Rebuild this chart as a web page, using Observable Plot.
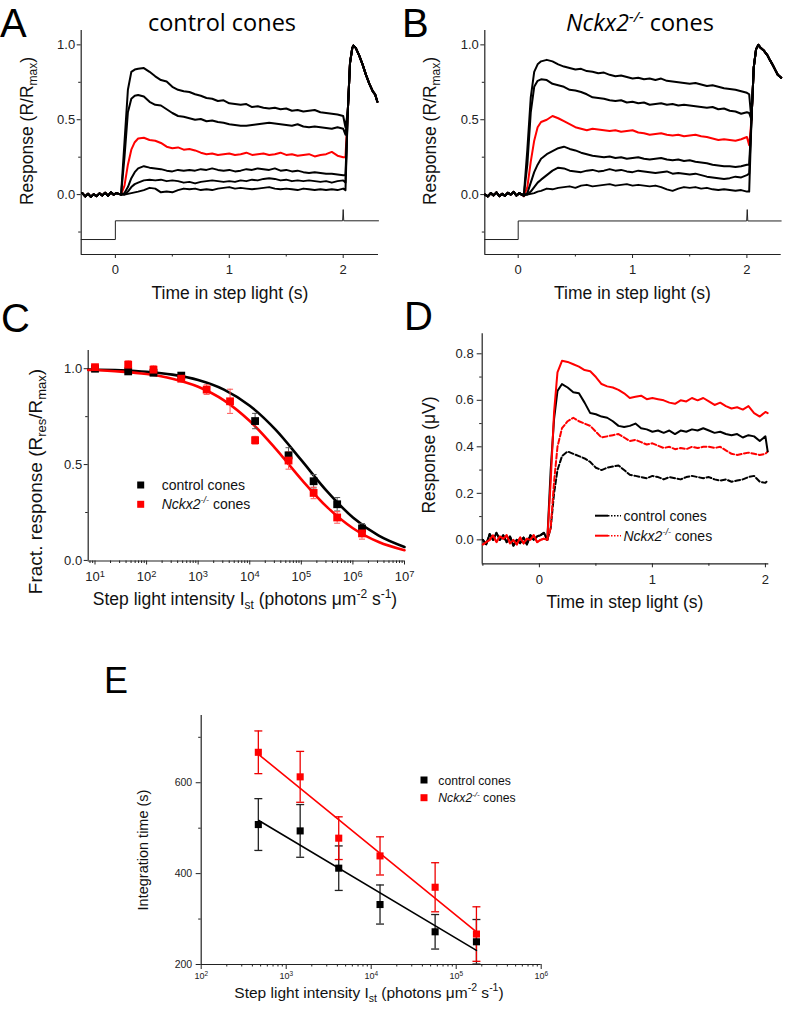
<!DOCTYPE html>
<html><head><meta charset="utf-8">
<script src="https://cdn.jsdelivr.net/npm/d3@7"></script>
<script src="https://cdn.jsdelivr.net/npm/@observablehq/plot@0.6"></script>
<style>
html,body{margin:0;padding:0;background:#fff;}
#fig{position:relative;width:787px;height:1018px;overflow:hidden;background:#fff;}
</style></head><body><div id="fig"></div>
<script>
// ---------------- Panels A & B: time grids ----------------
const T_BASE = [-0.29,-0.265,-0.24,-0.215,-0.19,-0.165,-0.14,-0.115,-0.09,-0.065,-0.04,-0.015,0.01,0.03];
const T_STEP = [0.05,0.08,0.11,0.14,0.17,0.2,0.25,0.3,0.35,0.4,0.45,0.5,0.55,0.6,0.65,0.7,0.75,0.8,0.85,0.9,0.95,1.0,1.05,1.1,1.15,1.2,1.25,1.3,1.35,1.4,1.45,1.5,1.55,1.6,1.65,1.7,1.75,1.8,1.85,1.9,1.95,2.0,2.02];

// Panel A (control cones), R/Rmax
const A_base = [0.01,-0.012,0.006,-0.015,0.002,-0.01,0.008,-0.006,0.012,-0.008,0.015,0.0,0.01,0.005];
const A_1 = [0.0,0.35,0.7,0.82,0.835, 0.84,0.845,0.82,0.79,0.765,0.755,0.72,0.70,0.69,0.685,0.67,0.66,0.645,0.64,0.625,0.63,0.61,0.605,0.60,0.605,0.585,0.59,0.58,0.575,0.58,0.57,0.575,0.56,0.565,0.555,0.56,0.565,0.55,0.545,0.54,0.535,0.525, 0.45];
const A_2 = [0.0,0.25,0.55,0.64,0.66, 0.665,0.655,0.62,0.6,0.595,0.57,0.545,0.525,0.52,0.51,0.5,0.505,0.49,0.495,0.485,0.48,0.47,0.465,0.46,0.46,0.465,0.47,0.475,0.48,0.475,0.47,0.465,0.46,0.47,0.455,0.45,0.455,0.45,0.445,0.44,0.45,0.44, 0.40];
const A_red = [0.0,0.06,0.2,0.3,0.35, 0.375,0.38,0.365,0.36,0.345,0.32,0.31,0.315,0.3,0.305,0.295,0.28,0.27,0.275,0.265,0.27,0.275,0.265,0.27,0.28,0.265,0.27,0.275,0.265,0.27,0.28,0.265,0.27,0.26,0.265,0.27,0.255,0.265,0.27,0.285,0.26,0.25, 0.25];
const A_4 = [0.0,0.01,0.05,0.11,0.15, 0.175,0.19,0.18,0.175,0.17,0.16,0.155,0.165,0.16,0.165,0.16,0.17,0.165,0.175,0.165,0.16,0.165,0.155,0.16,0.17,0.165,0.175,0.17,0.165,0.175,0.16,0.165,0.155,0.16,0.15,0.145,0.15,0.145,0.14,0.14,0.135,0.13, 0.13];
const A_5 = [0.0,0.0,0.02,0.05,0.07, 0.08,0.095,0.1,0.095,0.1,0.09,0.095,0.09,0.08,0.085,0.075,0.085,0.09,0.095,0.09,0.085,0.09,0.085,0.095,0.09,0.1,0.095,0.105,0.11,0.105,0.095,0.1,0.09,0.095,0.09,0.095,0.09,0.085,0.09,0.08,0.09,0.095, 0.08];
const A_6 = [0.0,0.0,0.005,0.01,0.015, 0.02,0.03,0.045,0.04,0.015,0.02,0.015,0.03,0.04,0.035,0.04,0.03,0.035,0.03,0.04,0.045,0.05,0.04,0.045,0.04,0.035,0.04,0.045,0.05,0.04,0.035,0.04,0.035,0.03,0.04,0.035,0.03,0.035,0.03,0.035,0.03,0.04, 0.03];
const A_flashT = [2.04,2.06,2.08,2.09,2.11,2.14,2.17,2.2,2.23,2.26,2.28,2.3];
const A_flashV = [0.55,0.88,0.98,0.995,0.98,0.93,0.87,0.8,0.74,0.69,0.67,0.62];
const A_stimT = [-0.3,0,0,1.995,2.0,2.005,2.31];
const A_stimV = [-0.3,-0.3,-0.175,-0.175,-0.1,-0.175,-0.175];

// Panel B (Nckx2-/- cones), R/Rmax
const B_base = [0.0,-0.012,0.01,-0.005,0.015,-0.01,0.005,-0.008,0.012,0.0,0.018,-0.006,0.01,0.0];
const B_1 = [0.0,0.3,0.65,0.82,0.87, 0.89,0.9,0.89,0.87,0.855,0.845,0.835,0.84,0.825,0.82,0.81,0.815,0.8,0.79,0.795,0.785,0.775,0.78,0.77,0.775,0.765,0.775,0.76,0.755,0.75,0.745,0.74,0.745,0.735,0.725,0.73,0.72,0.71,0.705,0.7,0.69,0.68, 0.67];
const B_2 = [0.0,0.2,0.55,0.72,0.76, 0.77,0.765,0.74,0.73,0.72,0.7,0.695,0.685,0.67,0.65,0.645,0.64,0.63,0.625,0.63,0.615,0.62,0.61,0.615,0.6,0.605,0.61,0.6,0.605,0.595,0.6,0.595,0.59,0.585,0.58,0.585,0.57,0.575,0.56,0.555,0.54,0.55, 0.545];
const B_red = [-0.01,0.05,0.22,0.36,0.45, 0.485,0.5,0.525,0.51,0.49,0.47,0.45,0.44,0.43,0.44,0.435,0.43,0.425,0.43,0.42,0.425,0.43,0.415,0.41,0.4,0.405,0.41,0.4,0.395,0.4,0.39,0.395,0.4,0.39,0.385,0.375,0.365,0.37,0.365,0.36,0.37,0.385, 0.33];
const B_4 = [-0.01,0.01,0.08,0.15,0.2, 0.24,0.27,0.29,0.31,0.32,0.305,0.295,0.28,0.27,0.26,0.255,0.25,0.255,0.245,0.25,0.24,0.245,0.25,0.24,0.235,0.24,0.245,0.235,0.23,0.235,0.225,0.23,0.22,0.215,0.21,0.2,0.195,0.19,0.19,0.185,0.19,0.2, 0.2];
const B_5 = [-0.005,0.0,0.02,0.05,0.08, 0.1,0.13,0.16,0.18,0.175,0.16,0.155,0.15,0.16,0.165,0.155,0.16,0.17,0.16,0.165,0.155,0.15,0.16,0.155,0.15,0.145,0.15,0.155,0.14,0.145,0.14,0.135,0.14,0.13,0.12,0.115,0.11,0.105,0.11,0.12,0.115,0.13, 0.14];
const B_6 = [0.0,0.0,0.005,0.01,0.02, 0.025,0.04,0.035,0.045,0.05,0.055,0.045,0.06,0.065,0.055,0.06,0.065,0.07,0.06,0.065,0.07,0.06,0.065,0.06,0.055,0.06,0.05,0.035,0.025,0.04,0.05,0.045,0.05,0.04,0.045,0.035,0.03,0.035,0.03,0.025,0.03,0.02, 0.02];
const B_flashT = [2.04,2.06,2.08,2.1,2.12,2.15,2.18,2.2,2.23,2.25,2.27,2.3];
const B_flashV = [0.5,0.85,0.97,1.0,0.98,0.96,0.93,0.9,0.86,0.83,0.8,0.78];
const B_stimT = [-0.292,0,0,1.998,2.003,2.008,2.3];
const B_stimV = [-0.3,-0.3,-0.176,-0.176,-0.1,-0.176,-0.176];

// ---------------- Panel C: fractional response vs step intensity ----------------
const C_ctrlI = [10,44,136,470,12700,56500,173000,495000,1500000];
const C_ctrlR = [1.0,0.986,0.979,0.964,0.727,0.548,0.413,0.293,0.167];
const C_ctrlE = [0.01,0.01,0.01,0.01,0.04,0.04,0.035,0.035,0.025];
const C_redI = [10,44,136,470,1460,4150,12700,56500,173000,495000,1500000];
const C_redR = [1.008,1.021,0.995,0.948,0.891,0.83,0.627,0.521,0.352,0.224,0.141];
const C_redE = [0.01,0.02,0.02,0.015,0.025,0.063,0.02,0.045,0.03,0.03,0.03];
const C_fitI = [7.4,32,100,316,1000,3162,10000,31623,100000,316228,1000000,3162278,10000000];
const C_fitCtrl = [0.996,0.992,0.984,0.969,0.941,0.891,0.807,0.682,0.523,0.360,0.224,0.129,0.070];
const C_fitRed = [0.993,0.985,0.972,0.948,0.906,0.835,0.727,0.583,0.423,0.278,0.168,0.096,0.053];
const C_xTicks = [10,100,1000,10000,100000,1000000,10000000];

// ---------------- Panel D: absolute responses (µV) ----------------
const D_baseT = [-0.5,-0.47,-0.44,-0.41,-0.38,-0.35,-0.32,-0.29,-0.26,-0.23,-0.2,-0.17,-0.14,-0.11,-0.08,-0.05,-0.02,0.01,0.04];
const D_baseBlack = [0.0,-0.02,0.025,0.0,0.03,0.0,0.02,-0.01,0.015,-0.025,0.0,-0.015,0.01,-0.02,0.02,0.0,0.015,0.02,0.03];
const D_baseRed = [-0.02,-0.01,0.0,0.02,-0.01,0.015,0.005,0.02,-0.015,0.0,-0.02,0.01,-0.015,0.005,0.0,0.02,-0.01,0.0,0.005];
const D_T = [0.07,0.1,0.13,0.16,0.2,0.25,0.3,0.35,0.4,0.45,0.5,0.55,0.6,0.65,0.7,0.75,0.8,0.85,0.9,0.95,1.0,1.05,1.1,1.15,1.2,1.25,1.3,1.35,1.4,1.45,1.5,1.55,1.6,1.65,1.7,1.75,1.8,1.85,1.9,1.95,2.0,2.02];
const D_redSolid = [0.0,0.25,0.55,0.72, 0.77,0.765,0.755,0.745,0.73,0.725,0.7,0.67,0.66,0.655,0.645,0.63,0.61,0.615,0.62,0.605,0.61,0.605,0.6,0.59,0.585,0.6,0.595,0.61,0.6,0.61,0.595,0.58,0.59,0.575,0.565,0.57,0.56,0.575,0.545,0.53,0.55, 0.545];
const D_blackSolid = [0.0,0.3,0.52,0.64, 0.67,0.655,0.635,0.63,0.59,0.545,0.54,0.53,0.525,0.51,0.49,0.485,0.49,0.5,0.48,0.475,0.465,0.47,0.46,0.47,0.455,0.47,0.465,0.475,0.47,0.48,0.47,0.46,0.465,0.455,0.45,0.455,0.44,0.45,0.445,0.425,0.445, 0.38];
const D_redDash = [0.0,0.05,0.25,0.4, 0.48,0.51,0.525,0.51,0.5,0.49,0.465,0.44,0.445,0.45,0.455,0.44,0.425,0.43,0.42,0.41,0.415,0.405,0.395,0.4,0.39,0.395,0.39,0.4,0.395,0.4,0.4,0.395,0.4,0.385,0.37,0.365,0.37,0.375,0.37,0.365,0.37, 0.38];
const D_blackDash = [0.0,0.05,0.2,0.3, 0.36,0.38,0.37,0.36,0.35,0.335,0.31,0.3,0.31,0.315,0.32,0.3,0.28,0.275,0.27,0.265,0.275,0.27,0.26,0.27,0.265,0.26,0.27,0.275,0.27,0.265,0.27,0.26,0.255,0.26,0.25,0.255,0.26,0.27,0.275,0.25,0.245, 0.255];

// ---------------- Panel E: integration time ----------------
const E_I = [470,1460,4150,12700,56500,173000];
const E_ctrl = [508,494,412,332,272,250];
const E_ctrlErr = [57,58,49,43,38,49];
const E_red = [667,613,478,439,370,267];
const E_redErr = [47,56,47,42,54,60];
const E_fitI = [476,173000];
const E_fitCtrl = [517,231];
const E_fitRed = [662,272];
const E_xTicks = [100,1000,10000,100000,1000000];
const E_yTicks = [200,400,600];

// ---------------- helpers ----------------
const RED = "#ff0000";
const FONT = "'Liberation Sans', Arial, sans-serif";
const FONT_TITLE = "'Open Sans', sans-serif";
const fig = document.getElementById("fig");

function series(ts, vs, name) {
  if (ts.length !== vs.length) throw new Error("length mismatch " + name + ": " + ts.length + " vs " + vs.length);
  return ts.map((t, i) => ({t, v: vs[i]}));
}
function trace(name, baseT, baseV, gridT, vals, flashT, flashV) {
  return [...series(baseT, baseV, name + " base"), ...series(gridT, vals, name), ...(flashT ? series(flashT, flashV, name + " flash") : [])];
}
function style(fs) { return {fontFamily: FONT, fontSize: fs, color: "#222", background: "transparent", overflow: "visible"}; }
function axisMarks(o) {
  return [
    Plot.ruleX([o.x0], {stroke: "#222", strokeWidth: 1.2}),
    Plot.ruleY([o.y0], {stroke: "#222", strokeWidth: 1.2}),
    Plot.axisY({ticks: o.yTicks, tickFormat: o.yFmt, tickSize: o.ySize || 4, tickPadding: o.yPad || 2, label: null}),
    Plot.axisY({ticks: o.yMinor, tickFormat: () => "", tickSize: 2.5, label: null}),
    Plot.axisX({ticks: o.xTicks, tickFormat: o.xFmt, tickSize: o.xSize || 4, tickPadding: o.xPad || 6, label: null, fontSize: o.xFont}),
    Plot.axisX({ticks: o.xMinor, tickFormat: () => "", tickSize: 2.5, label: null})
  ];
}
function place(el, left, top) { el.style.position = "absolute"; el.style.left = left + "px"; el.style.top = top + "px"; fig.appendChild(el); }
function supTicks(svg) {
  d3.select(svg).selectAll("text").each(function () {
    const m = /^10\^(-?\d+)$/.exec(this.textContent);
    if (!m) return;
    this.textContent = "";
    d3.select(this).append("tspan").text("10");
    d3.select(this).append("tspan").attr("dy", "-0.5em").attr("font-size", "0.72em").text(m[1]);
  });
}
function logMinor(k0, k1, lo, hi) {
  const out = [];
  for (let k = k0; k <= k1; k++) for (let m = 2; m <= 9; m++) { const v = m * Math.pow(10, k); if (v > lo && v < hi) out.push(v); }
  return out;
}
const pow10Fmt = d => "10^" + Math.round(Math.log10(d));
const capSymbol = {draw(ctx, size) { const w = Math.sqrt(size) / 2; ctx.moveTo(-w, 0); ctx.lineTo(w, 0); }};

// ---------------- Panels A & B ----------------
function tracePanel(base, traces, redTrace, flashT, flashV, stimT, stimV, baseName) {
  const marks = [];
  marks.push(Plot.line(series(stimT, stimV, baseName + " stim"), {x: "t", y: "v", stroke: "#222", strokeWidth: 1}));
  marks.push(Plot.line(trace(baseName + " red", T_BASE, base, T_STEP, redTrace, flashT, flashV), {x: "t", y: "v", stroke: RED, strokeWidth: 2}));
  for (const [name, vals] of traces) {
    marks.push(Plot.line(trace(name, T_BASE, base, T_STEP, vals, flashT, flashV), {x: "t", y: "v", stroke: "#000", strokeWidth: 2}));
  }
  return marks;
}

const pA = Plot.plot({
  width: 390, height: 310, marginLeft: 80.7, marginRight: 12, marginTop: 30, marginBottom: 56,
  style: style("13px"),
  x: {domain: [-0.3, 2.31]}, y: {domain: [-0.4, 1.096]},
  marks: [
    ...axisMarks({x0: -0.3, y0: -0.4, yTicks: [0, 0.5, 1], yFmt: d3.format(".1f"), yMinor: [-0.25, 0.25, 0.75],
      xTicks: [0, 1, 2], xFmt: d3.format("d"), xMinor: [0.5, 1.5]}),
    ...tracePanel(A_base, [["A1", A_1], ["A2", A_2], ["A4", A_4], ["A5", A_5], ["A6", A_6]], A_red, A_flashT, A_flashV, A_stimT, A_stimV, "A")
  ]
});
place(pA, 0, 0);

const pB = Plot.plot({
  width: 397, height: 310, marginLeft: 94.3, marginRight: 6.3, marginTop: 30, marginBottom: 56,
  style: style("13px"),
  x: {domain: [-0.292, 2.3]}, y: {domain: [-0.4, 1.096]},
  marks: [
    ...axisMarks({x0: -0.292, y0: -0.4, yTicks: [0, 0.5, 1], yFmt: d3.format(".1f"), yMinor: [-0.25, 0.25, 0.75],
      xTicks: [0, 1, 2], xFmt: d3.format("d"), xMinor: [0.5, 1.5]}),
    ...tracePanel(B_base, [["B1", B_1], ["B2", B_2], ["B4", B_4], ["B5", B_5], ["B6", B_6]], B_red, B_flashT, B_flashV, B_stimT, B_stimV, "B")
  ]
});
place(pB, 390, 0);

// ---------------- Panel C ----------------
const cCtrl = C_ctrlI.map((x, i) => ({x, y: C_ctrlR[i], lo: C_ctrlR[i] - C_ctrlE[i], hi: C_ctrlR[i] + C_ctrlE[i]}));
const cRed = C_redI.map((x, i) => ({x, y: C_redR[i], lo: C_redR[i] - C_redE[i], hi: C_redR[i] + C_redE[i]}));
const cFitCtrl = series(C_fitI, C_fitCtrl, "C fit ctrl");
const cFitRed = series(C_fitI, C_fitRed, "C fit red");
const C_x0 = 7.38;
const pC = Plot.plot({
  width: 410, height: 310, marginLeft: 87.7, marginRight: 6, marginTop: 50, marginBottom: 49.5,
  style: style("13px"),
  x: {type: "log", domain: [C_x0, 1e7]}, y: {domain: [-0.003, 1.095]},
  marks: [
    ...axisMarks({x0: C_x0, y0: -0.003, yTicks: [0, 0.5, 1], yFmt: d3.format(".1f"), yMinor: [0.25, 0.75],
      xTicks: C_xTicks, xFmt: pow10Fmt, xMinor: logMinor(0, 6, C_x0, 1e7), xPad: 7}),
    Plot.line(cFitCtrl, {x: "t", y: "v", stroke: "#000", strokeWidth: 2.6, curve: "monotone-x"}),
    Plot.line(cFitRed, {x: "t", y: "v", stroke: RED, strokeWidth: 2.6, curve: "monotone-x"}),
    Plot.ruleX(cCtrl, {x: "x", y1: "lo", y2: "hi", stroke: "#555", strokeWidth: 1}),
    Plot.dot(cCtrl, {x: "x", y: "lo", symbol: capSymbol, r: 3.4, stroke: "#555", fill: "none", strokeWidth: 1}),
    Plot.dot(cCtrl, {x: "x", y: "hi", symbol: capSymbol, r: 3.4, stroke: "#555", fill: "none", strokeWidth: 1}),
    Plot.ruleX(cRed, {x: "x", y1: "lo", y2: "hi", stroke: "#f55", strokeWidth: 1}),
    Plot.dot(cRed, {x: "x", y: "lo", symbol: capSymbol, r: 3.4, stroke: "#f55", fill: "none", strokeWidth: 1}),
    Plot.dot(cRed, {x: "x", y: "hi", symbol: capSymbol, r: 3.4, stroke: "#f55", fill: "none", strokeWidth: 1}),
    Plot.dot(cCtrl, {x: "x", y: "y", symbol: "square", r: 4.4, fill: "#000"}),
    Plot.dot(cRed, {x: "x", y: "y", symbol: "square", r: 4.4, fill: RED})
  ]
});
supTicks(pC);
place(pC, 0, 300);

// ---------------- Panel D ----------------
const pD = Plot.plot({
  width: 397, height: 310, marginLeft: 91.7, marginRight: 18.7, marginTop: 33.3, marginBottom: 46.7,
  style: style("13px"),
  x: {domain: [-0.506, 2.03]}, y: {domain: [-0.103, 0.886]},
  marks: [
    ...axisMarks({x0: -0.506, y0: -0.103, yTicks: [0, 0.2, 0.4, 0.6, 0.8], yFmt: d3.format(".1f"), yMinor: [0.1, 0.3, 0.5, 0.7], ySize: 5, yPad: 3.5,
      xTicks: [0, 1, 2], xFmt: d3.format("d"), xMinor: [-0.5, 0.5, 1.5], xPad: 7}),
    Plot.line(trace("D black dash", D_baseT, D_baseBlack, D_T, D_blackDash), {x: "t", y: "v", stroke: "#000", strokeWidth: 2, strokeDasharray: "5,2.5"}),
    Plot.line(trace("D red dash", D_baseT, D_baseRed, D_T, D_redDash), {x: "t", y: "v", stroke: RED, strokeWidth: 2, strokeDasharray: "5,2.5"}),
    Plot.line(trace("D black solid", D_baseT, D_baseBlack, D_T, D_blackSolid), {x: "t", y: "v", stroke: "#000", strokeWidth: 2}),
    Plot.line(trace("D red solid", D_baseT, D_baseRed, D_T, D_redSolid), {x: "t", y: "v", stroke: RED, strokeWidth: 2})
  ]
});
place(pD, 390, 300);

// ---------------- Panel E ----------------
const eCtrl = E_I.map((x, i) => ({x, y: E_ctrl[i], lo: E_ctrl[i] - E_ctrlErr[i], hi: E_ctrl[i] + E_ctrlErr[i]}));
const eRed = E_I.map((x, i) => ({x, y: E_red[i], lo: E_red[i] - E_redErr[i], hi: E_red[i] + E_redErr[i]}));
const pE = Plot.plot({
  width: 460, height: 358, marginLeft: 100.7, marginRight: 19.3, marginTop: 55, marginBottom: 54,
  style: style("10.5px"),
  x: {type: "log", domain: [100, 1e6]}, y: {domain: [200, 748]},
  marks: [
    ...axisMarks({x0: 100, y0: 200, yTicks: E_yTicks, yFmt: d3.format("d"), yMinor: [300, 500, 700], ySize: 5, yPad: 4,
      xTicks: E_xTicks, xFmt: pow10Fmt, xMinor: logMinor(2, 5, 100, 1e6), xSize: 5, xPad: 3, xFont: 9}),
    Plot.ruleX(eCtrl, {x: "x", y1: "lo", y2: "hi", stroke: "#222", strokeWidth: 1.3}),
    Plot.dot(eCtrl, {x: "x", y: "lo", symbol: capSymbol, r: 4.5, stroke: "#222", fill: "none", strokeWidth: 1.3}),
    Plot.dot(eCtrl, {x: "x", y: "hi", symbol: capSymbol, r: 4.5, stroke: "#222", fill: "none", strokeWidth: 1.3}),
    Plot.ruleX(eRed, {x: "x", y1: "lo", y2: "hi", stroke: "#e00", strokeWidth: 1.3}),
    Plot.dot(eRed, {x: "x", y: "lo", symbol: capSymbol, r: 4.5, stroke: "#e00", fill: "none", strokeWidth: 1.3}),
    Plot.dot(eRed, {x: "x", y: "hi", symbol: capSymbol, r: 4.5, stroke: "#e00", fill: "none", strokeWidth: 1.3}),
    Plot.line(series(E_fitI, E_fitCtrl, "E fit ctrl"), {x: "t", y: "v", stroke: "#000", strokeWidth: 1.6}),
    Plot.line(series(E_fitI, E_fitRed, "E fit red"), {x: "t", y: "v", stroke: RED, strokeWidth: 1.6}),
    Plot.dot(eCtrl, {x: "x", y: "y", symbol: "square", r: 4, fill: "#000"}),
    Plot.dot(eRed, {x: "x", y: "y", symbol: "square", r: 4, fill: RED})
  ]
});
supTicks(pE);
place(pE, 100, 660);

// ---------------- Text overlay: panel letters, titles, axis labels, legends ----------------
const nck = (fs, sup, d) => `<tspan font-style="italic">Nckx2</tspan><tspan font-style="italic" font-size="${sup}" dy="-${d}">-/-</tspan><tspan dy="${d}"> cones</tspan>`;
const respLabel = `Response (R/R<tspan font-size="12" dy="4">max</tspan><tspan dy="-4">)</tspan>`;
const intensLabel = (s, d) => `Step light intensity I<tspan font-size="${s}" dy="${d}">st</tspan><tspan dy="-${d}"> (photons μm</tspan><tspan font-size="${s}" dy="-${d + 3}">-2</tspan><tspan dy="${d + 3}"> s</tspan><tspan font-size="${s}" dy="-${d + 3}">-1</tspan><tspan dy="${d + 3}">)</tspan>`;
const overlay = `
<svg xmlns="http://www.w3.org/2000/svg" width="787" height="1018" style="position:absolute;left:0;top:0;pointer-events:none" font-family="${FONT}" fill="#111">
  <g font-family="${FONT}" fill="#000">
    <text x="0" y="37" font-size="40">A</text>
    <text x="402" y="37" font-size="40">B</text>
    <text x="1" y="332" font-size="40">C</text>
    <text x="404" y="330" font-size="40">D</text>
    <text x="104" y="693" font-size="36">E</text>
  </g>
  <g font-family="${FONT_TITLE}" fill="#000">
    <text x="222" y="31" font-size="23.5" text-anchor="middle">control cones</text>
    <text x="640" y="31" font-size="23.5" text-anchor="middle">${nck(23.5, 15, 9)}</text>
  </g>
  <text transform="translate(33,131) rotate(-90)" font-size="17.5" text-anchor="middle">${respLabel}</text>
  <text transform="translate(435.5,131) rotate(-90)" font-size="17.5" text-anchor="middle">${respLabel}</text>
  <text x="230" y="298.5" font-size="17.5" text-anchor="middle">Time in step light (s)</text>
  <text x="632.5" y="298.5" font-size="17.5" text-anchor="middle">Time in step light (s)</text>

  <text transform="translate(41.7,481.5) rotate(-90)" font-size="19" text-anchor="middle">Fract. response (R<tspan font-size="13" dy="4">res</tspan><tspan dy="-4">/R</tspan><tspan font-size="13" dy="4">max</tspan><tspan dy="-4">)</tspan></text>
  <text x="245" y="605" font-size="17.5" text-anchor="middle">${intensLabel(12, 4)}</text>
  <rect x="137.2" y="481.5" width="7" height="7" fill="#000"/>
  <rect x="137.2" y="500.8" width="7" height="7" fill="${RED}"/>
  <text x="161.7" y="490" font-size="14">control cones</text>
  <text x="161.7" y="509.3" font-size="14">${nck(14, 9, 6)}</text>

  <text transform="translate(435,455) rotate(-90)" font-size="17.5" text-anchor="middle">Response (μV)</text>
  <text x="625" y="607.5" font-size="17.5" text-anchor="middle">Time in step light (s)</text>
  <line x1="595" y1="515.7" x2="608" y2="515.7" stroke="#000" stroke-width="2"/>
  <line x1="608" y1="515.7" x2="621" y2="515.7" stroke="#000" stroke-width="1.6" stroke-dasharray="1.5,1.5"/>
  <line x1="595" y1="535.7" x2="608" y2="535.7" stroke="${RED}" stroke-width="2"/>
  <line x1="608" y1="535.7" x2="621" y2="535.7" stroke="${RED}" stroke-width="1.6" stroke-dasharray="1.5,1.5"/>
  <text x="623.5" y="520.5" font-size="14">control cones</text>
  <text x="623.5" y="540.5" font-size="14">${nck(14, 9, 6)}</text>

  <text transform="translate(148.3,850) rotate(-90)" font-size="14.5" text-anchor="middle">Integration time (s)</text>
  <text x="369" y="998" font-size="15.5" text-anchor="middle">${intensLabel(10.5, 4)}</text>
  <rect x="420.5" y="776.5" width="7" height="7" fill="#000"/>
  <rect x="420.5" y="794.2" width="7" height="7" fill="${RED}"/>
  <text x="438.3" y="784.5" font-size="12.2">control cones</text>
  <text x="438.3" y="802" font-size="12.2">${nck(12.2, 8, 5)}</text>
</svg>`;
fig.insertAdjacentHTML("beforeend", overlay);
</script></body></html>
